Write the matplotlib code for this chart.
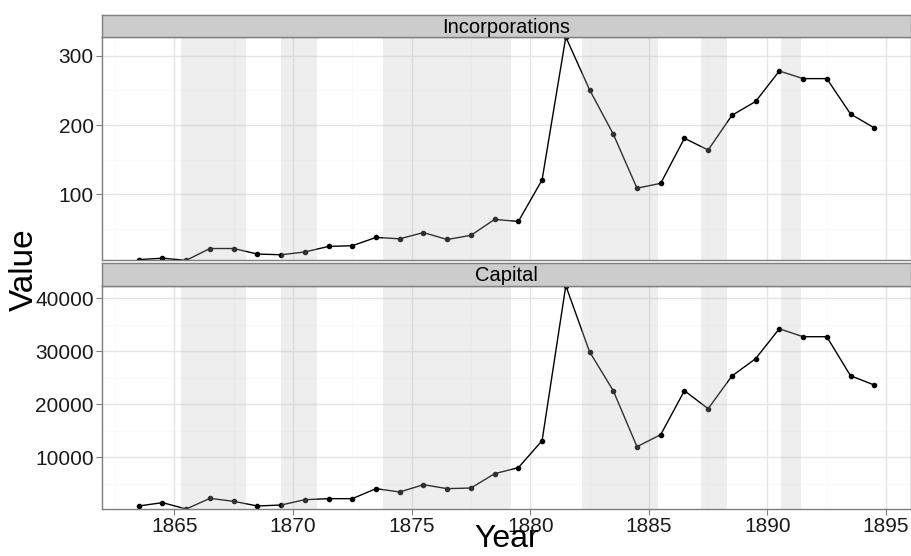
import matplotlib
matplotlib.use('Agg')
import matplotlib.pyplot as plt
import numpy as np

plt.rcParams['font.family'] = ['Liberation Sans', 'DejaVu Sans']

# mid-year observations
years = [1863.5, 1864.5, 1865.5, 1866.5, 1867.5, 1868.5, 1869.5, 1870.5,
         1871.5, 1872.5, 1873.5, 1874.5, 1875.5, 1876.5, 1877.5, 1878.5,
         1879.5, 1880.5, 1881.5, 1882.5, 1883.5, 1884.5, 1885.5, 1886.5,
         1887.5, 1888.5, 1889.5, 1890.5, 1891.5, 1892.5, 1893.5, 1894.5]
incorporations = [6, 8, 5, 22, 22, 14, 13, 17, 25, 26, 38, 36, 45, 35, 41, 64,
                  61, 121, 327, 251, 187, 109, 116, 181, 164, 214, 234, 278,
                  267, 267, 216, 196]
capital = [820, 1450, 250, 2260, 1700, 820, 1000, 2010, 2200, 2200, 4090, 3460,
           4840, 4090, 4210, 6920, 8050, 13150, 42400, 29940, 22580, 12010,
           14280, 22580, 19180, 25350, 28620, 34280, 32770, 32770, 25410, 23650]

# recession periods (shaded)
rec_start = [1865.3, 1869.5, 1873.8, 1882.2, 1887.2, 1890.55]
rec_end = [1868.0, 1871.0, 1879.2, 1885.4, 1888.3, 1891.4]

panels = [('Incorporations', incorporations, [100, 200, 300], [50, 150, 250]),
          ('Capital', capital, [10000, 20000, 30000, 40000],
           [5000, 15000, 25000, 35000])]

W, H = 912, 556
fig = plt.figure(figsize=(W / 100, H / 100), dpi=100)

left, right = 102, 911
# (strip top, strip bottom/panel top, panel bottom) in pixels
boxes = [(15.3, 37, 260.3), (263.3, 285.7, 509)]

xlo = min(years) - 0.05 * (max(years) - min(years))
xhi = max(years) + 0.05 * (max(years) - min(years))

for i, ((name, vals, majors, minors), (st, pt, pb)) in enumerate(zip(panels, boxes)):
    ax = fig.add_axes([left / W, 1 - pb / H, (right - left) / W, (pb - pt) / H])
    ax.set_xlim(xlo, xhi)
    ax.set_ylim(min(vals), max(vals))

    # grid
    for x in [1862.5, 1867.5, 1872.5, 1877.5, 1882.5, 1887.5, 1892.5]:
        ax.axvline(x, color='#FAFAFA', lw=0.8, zorder=0)
    for y in minors:
        ax.axhline(y, color='#FAFAFA', lw=0.8, zorder=0)
    for x in [1865, 1870, 1875, 1880, 1885, 1890, 1895]:
        ax.axvline(x, color='#E5E5E5', lw=1.0, zorder=0.1)
    for y in majors:
        ax.axhline(y, color='#E5E5E5', lw=1.0, zorder=0.1)

    ax.plot(years, vals, color='black', lw=1.0, marker='o', markersize=3,
            zorder=2, clip_on=True)

    for s, e in zip(rec_start, rec_end):
        ax.axvspan(s, e, color='#BEBEBE', alpha=0.26, lw=0, zorder=3)

    ax.set_yticks(majors)
    ax.set_yticklabels([str(m) for m in majors])
    ax.set_xticks([1865, 1870, 1875, 1880, 1885, 1890, 1895])
    ax.tick_params(axis='both', direction='out', length=4, width=0.8,
                   color='#7F7F7F', labelsize=15, labelcolor='#1A1A1A', pad=2)
    if i == 0:
        ax.tick_params(axis='x', bottom=False, labelbottom=False)
    for sp in ax.spines.values():
        sp.set_color('#7F7F7F')
        sp.set_linewidth(1.0)
        sp.set_zorder(5)

    # strip
    sax = fig.add_axes([left / W, 1 - pt / H, (right - left) / W, (pt - st) / H])
    sax.set_facecolor('#CCCCCC')
    sax.set_xticks([])
    sax.set_yticks([])
    for sp in sax.spines.values():
        sp.set_color('#7F7F7F')
        sp.set_linewidth(1.0)
    sax.text(0.5, 0.45, name, transform=sax.transAxes, ha='center', va='center',
             fontsize=14.5, color='black')

fig.text(24 / W, 1 - 270 / H, 'Value', rotation=90, ha='center', va='center',
         fontsize=24)
fig.text((left + right) / 2 / W, 2 / H, 'Year', ha='center', va='bottom',
         fontsize=23)

fig.savefig('out.png', dpi=100)
